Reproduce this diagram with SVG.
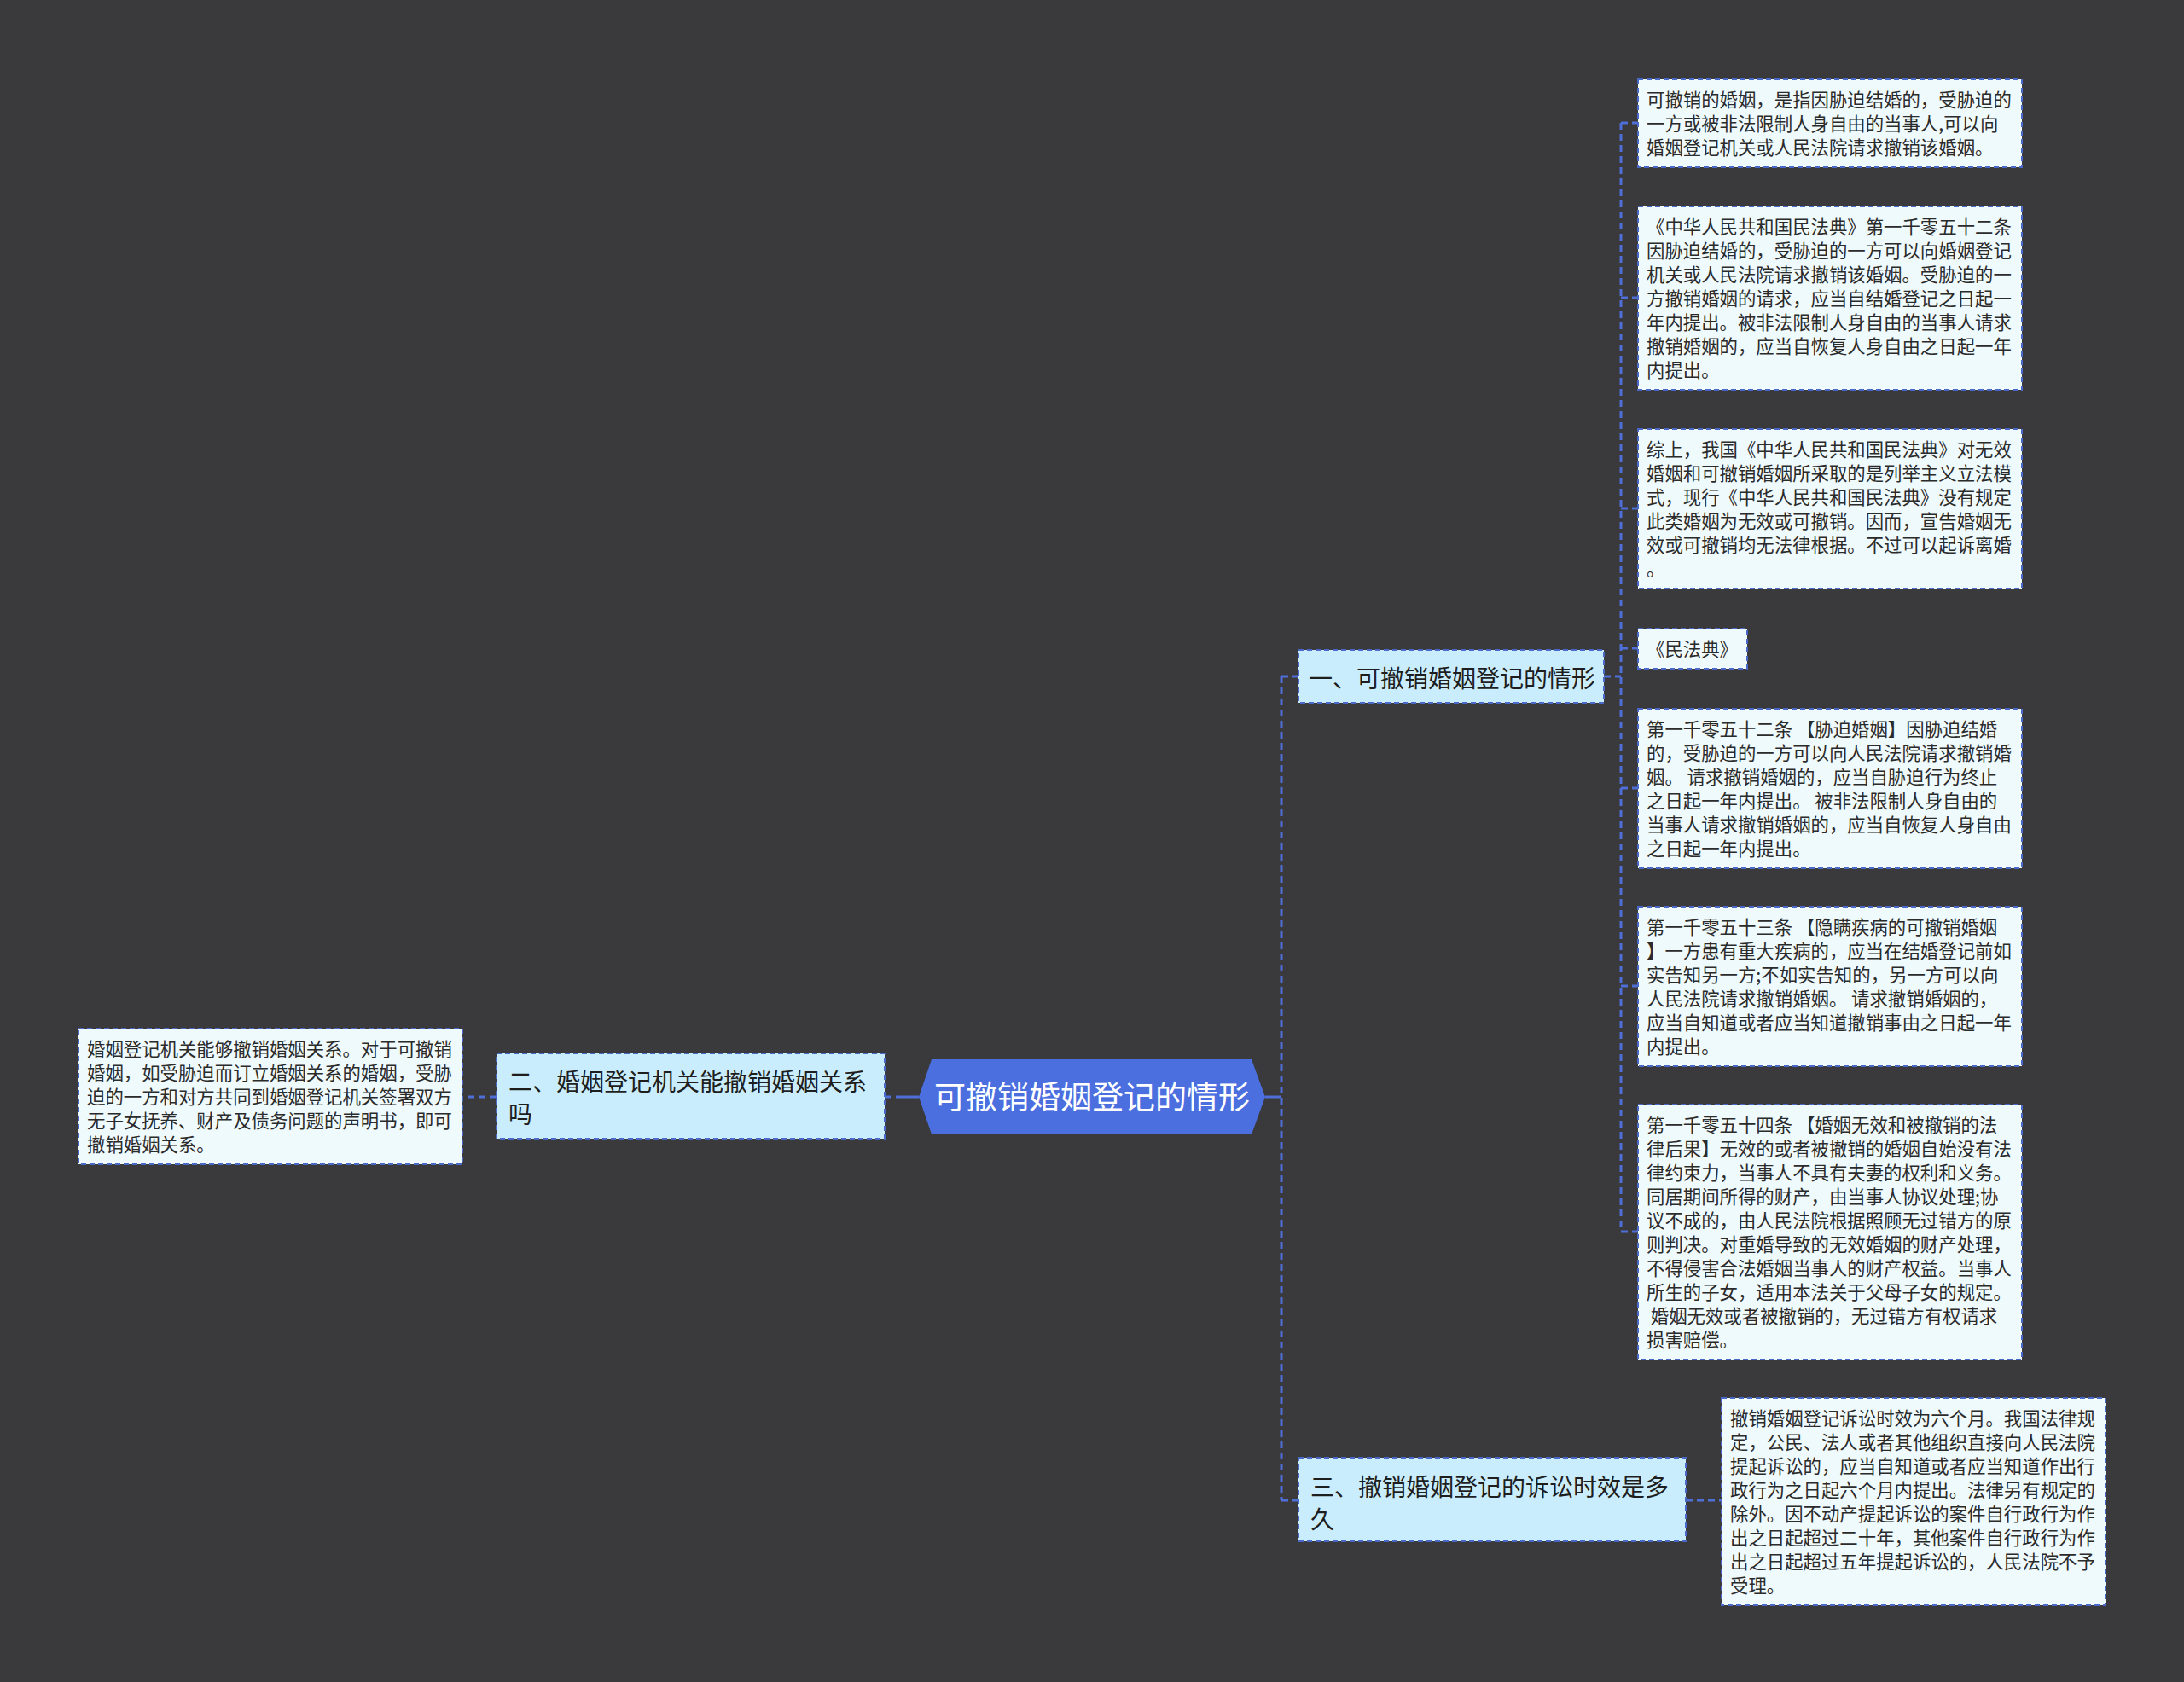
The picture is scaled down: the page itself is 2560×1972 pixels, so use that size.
<svg xmlns="http://www.w3.org/2000/svg" width="2560" height="1972" viewBox="0 0 2560 1972">
<style>
.bg{fill:#3a393b}
.leaf{fill:#effafd;stroke:#4a68c8;stroke-width:2;stroke-dasharray:6 4}
.branch{fill:#c9edfc;stroke:#4a68c8;stroke-width:2;stroke-dasharray:6 4}
.root{fill:#4c6fe0}
.lt{font-family:"Noto Sans CJK SC","Noto Sans",sans-serif;font-size:21.4px;fill:#2b2b2b}
.bt{font-family:"Noto Sans CJK SC","Noto Sans",sans-serif;font-size:28px;fill:#1e1e1e}
.rt{font-family:"Noto Sans CJK SC","Noto Sans",sans-serif;font-size:37px;fill:#ffffff}
.c{fill:none;stroke:#4f6fd8;stroke-width:3;stroke-dasharray:8 5}
.cs{fill:none;stroke:#4f6fd8;stroke-width:3}
</style>
<rect class="bg" x="0" y="0" width="2560" height="1972"/>
<g id="connectors">
<line class="cs" x1="1483" y1="1286" x2="1502" y2="1286"/>
<path class="c" d="M1502 793 V1759"/>
<line class="c" x1="1502" y1="793" x2="1522" y2="793"/>
<line class="c" x1="1502" y1="1759" x2="1522" y2="1759"/>
<line class="cs" x1="1077" y1="1286" x2="1050" y2="1286"/>
<line class="c" x1="1044" y1="1286" x2="1037" y2="1286"/>
<line class="c" x1="582" y1="1286" x2="542" y2="1286"/>
<line class="c" x1="1880" y1="793" x2="1900" y2="793"/>
<path class="c" d="M1900 144 V1444"/>
<line class="c" x1="1900" y1="144" x2="1920" y2="144"/>
<line class="c" x1="1900" y1="349" x2="1920" y2="349"/>
<line class="c" x1="1900" y1="596" x2="1920" y2="596"/>
<line class="c" x1="1900" y1="760" x2="1920" y2="760"/>
<line class="c" x1="1900" y1="924" x2="1920" y2="924"/>
<line class="c" x1="1900" y1="1156" x2="1920" y2="1156"/>
<line class="c" x1="1900" y1="1444" x2="1920" y2="1444"/>
<line class="c" x1="1976" y1="1759" x2="2018" y2="1759"/>
</g>
<g id="root">
<polygon class="root" points="1077,1286 1092,1242 1467,1242 1483,1286 1467,1330 1092,1330"/>
<text class="rt" x="1280" y="1300" text-anchor="middle">可撤销婚姻登记的情形</text>
</g>
<g id="branch1">
<rect class="branch" x="1522" y="762" width="358" height="62"/>
<text class="bt" x="1534" y="806">一、可撤销婚姻登记的情形</text>
</g>
<g id="branch2">
<rect class="branch" x="582" y="1235" width="455" height="100"/>
<text class="bt"><tspan x="596" y="1279">二、婚姻登记机关能撤销婚姻关系</tspan><tspan x="596" y="1317">吗</tspan></text>
</g>
<g id="branch3">
<rect class="branch" x="1522" y="1709" width="454" height="98"/>
<text class="bt"><tspan x="1536" y="1754">三、撤销婚姻登记的诉讼时效是多</tspan><tspan x="1536" y="1792">久</tspan></text>
</g>
<g id="leaf1">
<rect class="leaf" x="1920" y="93" width="450" height="103"/>
<text class="lt"><tspan x="1930" y="125">可撤销的婚姻，是指因胁迫结婚的，受胁迫的</tspan><tspan x="1930" y="153">一方或被非法限制人身自由的当事人,可以向</tspan><tspan x="1930" y="181">婚姻登记机关或人民法院请求撤销该婚姻。</tspan></text>
</g>
<g id="leaf2">
<rect class="leaf" x="1920" y="242" width="450" height="215"/>
<text class="lt"><tspan x="1930" y="274">《中华人民共和国民法典》第一千零五十二条</tspan><tspan x="1930" y="302">因胁迫结婚的，受胁迫的一方可以向婚姻登记</tspan><tspan x="1930" y="330">机关或人民法院请求撤销该婚姻。受胁迫的一</tspan><tspan x="1930" y="358">方撤销婚姻的请求，应当自结婚登记之日起一</tspan><tspan x="1930" y="386">年内提出。被非法限制人身自由的当事人请求</tspan><tspan x="1930" y="414">撤销婚姻的，应当自恢复人身自由之日起一年</tspan><tspan x="1930" y="442">内提出。</tspan></text>
</g>
<g id="leaf3">
<rect class="leaf" x="1920" y="503" width="450" height="187"/>
<text class="lt"><tspan x="1930" y="535">综上，我国《中华人民共和国民法典》对无效</tspan><tspan x="1930" y="563">婚姻和可撤销婚姻所采取的是列举主义立法模</tspan><tspan x="1930" y="591">式，现行《中华人民共和国民法典》没有规定</tspan><tspan x="1930" y="619">此类婚姻为无效或可撤销。因而，宣告婚姻无</tspan><tspan x="1930" y="647">效或可撤销均无法律根据。不过可以起诉离婚</tspan><tspan x="1930" y="675">。</tspan></text>
</g>
<g id="leaf4">
<rect class="leaf" x="1920" y="737" width="128" height="47"/>
<text class="lt" x="1930" y="769">《民法典》</text>
</g>
<g id="leaf5">
<rect class="leaf" x="1920" y="831" width="450" height="187"/>
<text class="lt" xml:space="preserve"><tspan x="1930" y="863">第一千零五十二条 【胁迫婚姻】因胁迫结婚</tspan><tspan x="1930" y="891">的，受胁迫的一方可以向人民法院请求撤销婚</tspan><tspan x="1930" y="919">姻。 请求撤销婚姻的，应当自胁迫行为终止</tspan><tspan x="1930" y="947">之日起一年内提出。 被非法限制人身自由的</tspan><tspan x="1930" y="975">当事人请求撤销婚姻的，应当自恢复人身自由</tspan><tspan x="1930" y="1003">之日起一年内提出。</tspan></text>
</g>
<g id="leaf6">
<rect class="leaf" x="1920" y="1063" width="450" height="187"/>
<text class="lt" xml:space="preserve"><tspan x="1930" y="1095">第一千零五十三条 【隐瞒疾病的可撤销婚姻</tspan><tspan x="1930" y="1123">】一方患有重大疾病的，应当在结婚登记前如</tspan><tspan x="1930" y="1151">实告知另一方;不如实告知的，另一方可以向</tspan><tspan x="1930" y="1179">人民法院请求撤销婚姻。 请求撤销婚姻的，</tspan><tspan x="1930" y="1207">应当自知道或者应当知道撤销事由之日起一年</tspan><tspan x="1930" y="1235">内提出。</tspan></text>
</g>
<g id="leaf7">
<rect class="leaf" x="1920" y="1295" width="450" height="299"/>
<text class="lt" xml:space="preserve"><tspan x="1930" y="1327">第一千零五十四条 【婚姻无效和被撤销的法</tspan><tspan x="1930" y="1355">律后果】无效的或者被撤销的婚姻自始没有法</tspan><tspan x="1930" y="1383">律约束力，当事人不具有夫妻的权利和义务。</tspan><tspan x="1930" y="1411">同居期间所得的财产，由当事人协议处理;协</tspan><tspan x="1930" y="1439">议不成的，由人民法院根据照顾无过错方的原</tspan><tspan x="1930" y="1467">则判决。对重婚导致的无效婚姻的财产处理，</tspan><tspan x="1930" y="1495">不得侵害合法婚姻当事人的财产权益。当事人</tspan><tspan x="1930" y="1523">所生的子女，适用本法关于父母子女的规定。</tspan><tspan x="1930" y="1551"> 婚姻无效或者被撤销的，无过错方有权请求</tspan><tspan x="1930" y="1579">损害赔偿。</tspan></text>
</g>
<g id="leaf8">
<rect class="leaf" x="2018" y="1639" width="450" height="243"/>
<text class="lt"><tspan x="2028" y="1671">撤销婚姻登记诉讼时效为六个月。我国法律规</tspan><tspan x="2028" y="1699">定，公民、法人或者其他组织直接向人民法院</tspan><tspan x="2028" y="1727">提起诉讼的，应当自知道或者应当知道作出行</tspan><tspan x="2028" y="1755">政行为之日起六个月内提出。法律另有规定的</tspan><tspan x="2028" y="1783">除外。因不动产提起诉讼的案件自行政行为作</tspan><tspan x="2028" y="1811">出之日起超过二十年，其他案件自行政行为作</tspan><tspan x="2028" y="1839">出之日起超过五年提起诉讼的，人民法院不予</tspan><tspan x="2028" y="1867">受理。</tspan></text>
</g>
<g id="leaf9">
<rect class="leaf" x="92" y="1206" width="450" height="159"/>
<text class="lt"><tspan x="102" y="1238">婚姻登记机关能够撤销婚姻关系。对于可撤销</tspan><tspan x="102" y="1266">婚姻，如受胁迫而订立婚姻关系的婚姻，受胁</tspan><tspan x="102" y="1294">迫的一方和对方共同到婚姻登记机关签署双方</tspan><tspan x="102" y="1322">无子女抚养、财产及债务问题的声明书，即可</tspan><tspan x="102" y="1350">撤销婚姻关系。</tspan></text>
</g>
</svg>
